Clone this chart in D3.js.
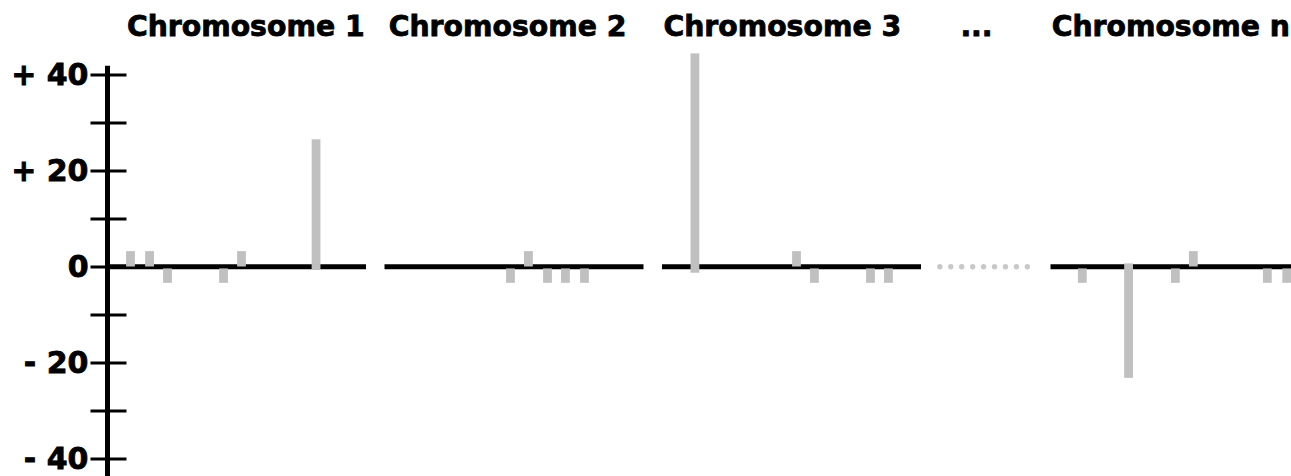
<!DOCTYPE html>
<html>
<head>
<meta charset="utf-8">
<script src="https://cdn.jsdelivr.net/npm/d3@7"></script>
<style>
  html, body { margin: 0; padding: 0; background: #fff; }
  svg { display: block; }
  text { font-family: "DejaVu Sans", Verdana, sans-serif; font-weight: bold; fill: #000; stroke: #000; stroke-width: 0.8px; }
</style>
</head>
<body>
<svg id="chart" width="1291" height="476"></svg>
<script>
// Chromosome panels and their start along the genome track (track units)
const chromNames = ["Chromosome 1", "Chromosome 2", "Chromosome 3", "Chromosome n"];
const chromStarts = [0, 15, 30, 51];
const chromLength = 14;

// Bar positions within each chromosome, bar values and the bar's base value
const chr1Pos  = [1.27, 2.3, 3.27, 6.3, 7.27, 11.3];
const chr1Val  = [3.2, 3.2, -3.4, -3.4, 3.2, 26.5];
const chr1Base = [0, 0, -0.4, -0.4, 0, -0.6];

const chr2Pos  = [6.81, 7.78, 8.81, 9.78, 10.81];
const chr2Val  = [-3.4, 3.2, -3.4, -3.4, -3.4];
const chr2Base = [-0.4, 0, -0.4, -0.4, -0.4];

const chr3Pos  = [1.78, 7.27, 8.24, 11.27, 12.24];
const chr3Val  = [44.4, 3.2, -3.4, -3.4, -3.4];
const chr3Base = [-1.3, 0, -0.4, -0.4, -0.4];

const chrNPos  = [1.72, 4.22, 6.75, 7.72, 11.72, 12.77];
const chrNVal  = [-3.4, -23.2, -3.4, 3.2, -3.4, -3.4];
const chrNBase = [-0.4, 0.65, -0.4, 0, -0.4, -0.4];

// Y axis ticks and labels
const tickValues = [40, 30, 20, 10, 0, -10, -20, -30, -40];
const labelValues = [40, 20, 0, -20, -40];
const tickLabels = ["+ 40", "+ 20", "0", "- 20", "- 40"];

const ellipsisLabel = "...";

const svg = d3.select("#chart");
const W = 1291, H = 476;
svg.append("rect").attr("width", W).attr("height", H).attr("fill", "#fff");

const x = d3.scaleLinear().domain([0, 60]).range([107, 107 + 60 * 18.5]);
const y = d3.scaleLinear().domain([-40, 40]).range([458.5, 74.5]);

const barColor = "#c0c0c0";
const barW = 8.8;

const chroms = [
  { name: chromNames[0], start: chromStarts[0], pos: chr1Pos, val: chr1Val, base: chr1Base, titleAt: 7.5 },
  { name: chromNames[1], start: chromStarts[1], pos: chr2Pos, val: chr2Val, base: chr2Base, titleAt: 6.65 },
  { name: chromNames[2], start: chromStarts[2], pos: chr3Pos, val: chr3Val, base: chr3Base, titleAt: 6.5 },
  { name: chromNames[3], start: chromStarts[3], pos: chrNPos, val: chrNVal, base: chrNBase, titleAt: 6.5 }
];

// Vertical axis with ticks crossing the line
const axisG = svg.append("g").attr("transform", `translate(${x(0) + 0.5},0)`);
const axis = d3.axisLeft(y)
  .tickValues(tickValues)
  .tickSize(17)
  .tickFormat(() => "");
axisG.call(axis);
axisG.select(".domain").remove();
axisG.selectAll(".tick text").remove();
axisG.selectAll(".tick line")
  .attr("x1", -17).attr("x2", 19)
  .attr("stroke", "#000").attr("stroke-width", 3);
axisG.append("line")
  .attr("x1", 0).attr("x2", 0)
  .attr("y1", y(41.8)).attr("y2", H + 5)
  .attr("stroke", "#000").attr("stroke-width", 5);
axisG.selectAll(".tlabel")
  .data(labelValues)
  .join("text")
  .attr("class", "tlabel")
  .attr("x", -19)
  .attr("y", d => y(d))
  .attr("dy", "0.36em")
  .attr("text-anchor", "end")
  .attr("font-size", 30)
  .text((d, i) => tickLabels[i]);

// Zero line segments, one per chromosome
svg.append("g").selectAll("line")
  .data(chroms)
  .join("line")
  .attr("x1", d => x(d.start))
  .attr("x2", d => x(d.start + chromLength))
  .attr("y1", y(0) + 0.3).attr("y2", y(0) + 0.3)
  .attr("stroke", "#000").attr("stroke-width", 5);

// Dotted gap standing for the omitted chromosomes
svg.append("g").selectAll("circle")
  .data(d3.range(9))
  .join("circle")
  .attr("cx", i => x(45.02 + i * 0.591))
  .attr("cy", y(0) + 0.3)
  .attr("r", 2.7)
  .attr("fill", "#c8c8c8");

// Bars
chroms.forEach(c => {
  const data = c.pos.map((p, i) => ({ p: c.start + p, v: c.val[i], b: c.base[i] }));
  svg.append("g").selectAll("rect")
    .data(data)
    .join("rect")
    .attr("x", d => x(d.p) - barW / 2)
    .attr("width", barW)
    .attr("y", d => y(Math.max(d.v, d.b)))
    .attr("height", d => Math.abs(y(d.v) - y(d.b)))
    .attr("fill", barColor);
});

// Chromosome titles
svg.append("g").selectAll("text")
  .data(chroms)
  .join("text")
  .attr("x", d => x(d.start + d.titleAt))
  .attr("y", 35.5)
  .attr("text-anchor", "middle")
  .attr("font-size", 28.3)
  .text(d => d.name);

svg.append("text")
  .attr("x", x(47.0))
  .attr("y", 35.5)
  .attr("text-anchor", "middle")
  .attr("font-size", 28.3)
  .text(ellipsisLabel);
</script>
</body>
</html>
